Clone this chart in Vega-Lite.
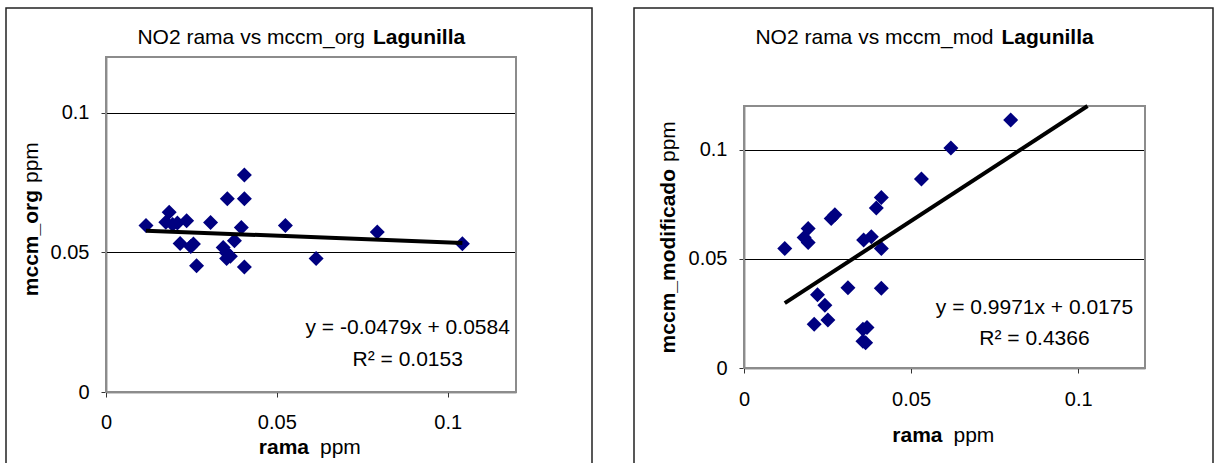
{
  "$schema": "https://vega.github.io/schema/vega-lite/v6.json",
  "padding": {"left": 5, "top": 7, "right": 0, "bottom": 0},
  "spacing": 40,
  "config": {
    "font": "Liberation Sans",
    "view": {"stroke": "#222222", "strokeWidth": 1.5},
    "text": {"font": "Liberation Sans", "fontSize": 21, "color": "#000000"},
    "axis": {"labelFont": "Liberation Sans", "labelFontSize": 20, "labelColor": "#000000", "labelFlush": false, "labelOverlap": false, "tickColor": "#333333", "tickSize": 5, "domainColor": "#333333", "domainWidth": 1.5, "gridColor": "#000000", "gridWidth": 1, "gridOpacity": 1}
  },
  "datasets": {
    "org": [
      {"rama": 0.0117, "mccm": 0.0596}, {"rama": 0.0185, "mccm": 0.0644}, {"rama": 0.0175, "mccm": 0.0608},
      {"rama": 0.0195, "mccm": 0.0600}, {"rama": 0.0209, "mccm": 0.0605}, {"rama": 0.0236, "mccm": 0.0613},
      {"rama": 0.0217, "mccm": 0.0532}, {"rama": 0.0248, "mccm": 0.0521}, {"rama": 0.0256, "mccm": 0.0530},
      {"rama": 0.0265, "mccm": 0.0452}, {"rama": 0.0306, "mccm": 0.0607}, {"rama": 0.0355, "mccm": 0.0692},
      {"rama": 0.0405, "mccm": 0.0692}, {"rama": 0.0405, "mccm": 0.0777}, {"rama": 0.0396, "mccm": 0.0589},
      {"rama": 0.0376, "mccm": 0.0542}, {"rama": 0.0343, "mccm": 0.0518}, {"rama": 0.0353, "mccm": 0.0498},
      {"rama": 0.0364, "mccm": 0.0486}, {"rama": 0.0353, "mccm": 0.0478}, {"rama": 0.0405, "mccm": 0.0448},
      {"rama": 0.0525, "mccm": 0.0596}, {"rama": 0.0615, "mccm": 0.0478}, {"rama": 0.0794, "mccm": 0.0573},
      {"rama": 0.1043, "mccm": 0.0531}
    ],
    "mod": [
      {"rama": 0.0122, "mccm": 0.0547}, {"rama": 0.0192, "mccm": 0.0639}, {"rama": 0.0180, "mccm": 0.0598},
      {"rama": 0.0192, "mccm": 0.0575}, {"rama": 0.0261, "mccm": 0.0685}, {"rama": 0.0272, "mccm": 0.0702},
      {"rama": 0.0358, "mccm": 0.0586}, {"rama": 0.0381, "mccm": 0.0601}, {"rama": 0.0411, "mccm": 0.0547},
      {"rama": 0.0396, "mccm": 0.0733}, {"rama": 0.0411, "mccm": 0.0781}, {"rama": 0.0531, "mccm": 0.0866},
      {"rama": 0.0619, "mccm": 0.1008}, {"rama": 0.0798, "mccm": 0.1136}, {"rama": 0.0220, "mccm": 0.0335},
      {"rama": 0.0242, "mccm": 0.0287}, {"rama": 0.0210, "mccm": 0.0200}, {"rama": 0.0251, "mccm": 0.0220},
      {"rama": 0.0311, "mccm": 0.0368}, {"rama": 0.0411, "mccm": 0.0365}, {"rama": 0.0356, "mccm": 0.0177},
      {"rama": 0.0368, "mccm": 0.0185}, {"rama": 0.0364, "mccm": 0.0116}, {"rama": 0.0356, "mccm": 0.0122}
    ],
    "fit_org": [{"rama": 0.0117, "mccm": 0.0578}, {"rama": 0.1043, "mccm": 0.0534}],
    "fit_mod": [{"rama": 0.0122, "mccm": 0.0297}, {"rama": 0.1028, "mccm": 0.12}],
    "one": [{}]
  },
  "hconcat": [
    {
      "width": 586,
      "height": 470,
      "layer": [
        {
          "data": {"name": "one"},
          "mark": {"type": "rect", "filled": false, "stroke": "#8c8c8c", "strokeWidth": 2},
          "encoding": {
            "x": {"datum": 0, "type": "quantitative", "title": null, "scale": {"domain": [0, 0.12], "range": [100, 510], "nice": false, "zero": false}},
            "x2": {"datum": 0.12},
            "y": {"datum": 0, "type": "quantitative", "title": null, "scale": {"domain": [0, 0.12], "range": [384, 49], "nice": false, "zero": false}},
            "y2": {"datum": 0.12}
          }
        },
        {
          "data": {"name": "org"},
          "mark": {"type": "point", "shape": "diamond", "filled": true, "color": "#000080", "size": 225, "opacity": 1},
          "encoding": {
            "x": {"field": "rama", "type": "quantitative", "title": null, "scale": {"domain": [0, 0.12], "range": [100, 510], "nice": false, "zero": false},
                  "axis": {"orient": "bottom", "offset": -86, "values": [0, 0.05, 0.1], "format": "~g", "grid": false, "labelPadding": 15, "title": null}},
            "y": {"field": "mccm", "type": "quantitative", "title": null, "scale": {"domain": [0, 0.12], "range": [384, 49], "nice": false, "zero": false},
                  "axis": {"orient": "left", "offset": -100, "values": [0, 0.05, 0.1], "format": "~g", "grid": true, "labelPadding": 12, "title": null}}
          }
        },
        {
          "data": {"name": "fit_org"},
          "mark": {"type": "line", "color": "#000000", "strokeWidth": 4},
          "encoding": {
            "x": {"field": "rama", "type": "quantitative", "title": null, "scale": {"domain": [0, 0.12], "range": [100, 510], "nice": false, "zero": false}},
            "y": {"field": "mccm", "type": "quantitative", "title": null, "scale": {"domain": [0, 0.12], "range": [384, 49], "nice": false, "zero": false}}
          }
        },
        {
          "data": {"name": "one"},
          "mark": {"type": "text", "text": "NO2 rama vs mccm_org", "align": "right", "baseline": "alphabetic"},
          "encoding": {
            "x": {"datum": 0.0758, "type": "quantitative", "title": null, "scale": {"domain": [0, 0.12], "range": [100, 510], "nice": false, "zero": false}},
            "y": {"datum": 0.12466, "type": "quantitative", "title": null, "scale": {"domain": [0, 0.12], "range": [384, 49], "nice": false, "zero": false}}
          }
        },
        {
          "data": {"name": "one"},
          "mark": {"type": "text", "text": "Lagunilla", "align": "left", "baseline": "alphabetic", "fontWeight": "bold", "dx": 8},
          "encoding": {
            "x": {"datum": 0.0758, "type": "quantitative", "title": null, "scale": {"domain": [0, 0.12], "range": [100, 510], "nice": false, "zero": false}},
            "y": {"datum": 0.12466, "type": "quantitative", "title": null, "scale": {"domain": [0, 0.12], "range": [384, 49], "nice": false, "zero": false}}
          }
        },
        {
          "data": {"name": "one"},
          "mark": {"type": "text", "text": "rama", "align": "right", "baseline": "alphabetic", "fontWeight": "bold"},
          "encoding": {
            "x": {"datum": 0.05941, "type": "quantitative", "title": null, "scale": {"domain": [0, 0.12], "range": [100, 510], "nice": false, "zero": false}},
            "y": {"datum": -0.0221, "type": "quantitative", "title": null, "scale": {"domain": [0, 0.12], "range": [384, 49], "nice": false, "zero": false}}
          }
        },
        {
          "data": {"name": "one"},
          "mark": {"type": "text", "text": "ppm", "align": "left", "baseline": "alphabetic", "dx": 11},
          "encoding": {
            "x": {"datum": 0.05941, "type": "quantitative", "title": null, "scale": {"domain": [0, 0.12], "range": [100, 510], "nice": false, "zero": false}},
            "y": {"datum": -0.0221, "type": "quantitative", "title": null, "scale": {"domain": [0, 0.12], "range": [384, 49], "nice": false, "zero": false}}
          }
        },
        {
          "data": {"name": "one"},
          "mark": {"type": "text", "text": "mccm_org", "align": "right", "baseline": "alphabetic", "fontWeight": "bold", "angle": 270},
          "encoding": {
            "x": {"datum": -0.0199, "type": "quantitative", "title": null, "scale": {"domain": [0, 0.12], "range": [100, 510], "nice": false, "zero": false}},
            "y": {"datum": 0.07236, "type": "quantitative", "title": null, "scale": {"domain": [0, 0.12], "range": [384, 49], "nice": false, "zero": false}}
          }
        },
        {
          "data": {"name": "one"},
          "mark": {"type": "text", "text": "ppm", "align": "left", "baseline": "alphabetic", "angle": 270, "dx": 7},
          "encoding": {
            "x": {"datum": -0.0199, "type": "quantitative", "title": null, "scale": {"domain": [0, 0.12], "range": [100, 510], "nice": false, "zero": false}},
            "y": {"datum": 0.07236, "type": "quantitative", "title": null, "scale": {"domain": [0, 0.12], "range": [384, 49], "nice": false, "zero": false}}
          }
        },
        {
          "data": {"name": "one"},
          "mark": {"type": "text", "text": "y = -0.0479x + 0.0584", "align": "center", "baseline": "alphabetic"},
          "encoding": {
            "x": {"datum": 0.0883, "type": "quantitative", "title": null, "scale": {"domain": [0, 0.12], "range": [100, 510], "nice": false, "zero": false}},
            "y": {"datum": 0.02078, "type": "quantitative", "title": null, "scale": {"domain": [0, 0.12], "range": [384, 49], "nice": false, "zero": false}}
          }
        },
        {
          "data": {"name": "one"},
          "mark": {"type": "text", "text": "R² = 0.0153", "align": "center", "baseline": "alphabetic"},
          "encoding": {
            "x": {"datum": 0.0883, "type": "quantitative", "title": null, "scale": {"domain": [0, 0.12], "range": [100, 510], "nice": false, "zero": false}},
            "y": {"datum": 0.00931, "type": "quantitative", "title": null, "scale": {"domain": [0, 0.12], "range": [384, 49], "nice": false, "zero": false}}
          }
        }
      ]
    },
    {
      "width": 579,
      "height": 470,
      "layer": [
        {
          "data": {"name": "one"},
          "mark": {"type": "rect", "filled": false, "stroke": "#8c8c8c", "strokeWidth": 2},
          "encoding": {
            "x": {"datum": 0, "type": "quantitative", "title": null, "scale": {"domain": [0, 0.12], "range": [110, 511], "nice": false, "zero": false}},
            "x2": {"datum": 0.12},
            "y": {"datum": 0, "type": "quantitative", "title": null, "scale": {"domain": [0, 0.12], "range": [360, 98], "nice": false, "zero": false}},
            "y2": {"datum": 0.12}
          }
        },
        {
          "data": {"name": "mod"},
          "mark": {"type": "point", "shape": "diamond", "filled": true, "color": "#000080", "size": 225, "opacity": 1},
          "encoding": {
            "x": {"field": "rama", "type": "quantitative", "title": null, "scale": {"domain": [0, 0.12], "range": [110, 511], "nice": false, "zero": false},
                  "axis": {"orient": "bottom", "offset": -110, "values": [0, 0.05, 0.1], "format": "~g", "grid": false, "labelPadding": 16, "title": null}},
            "y": {"field": "mccm", "type": "quantitative", "title": null, "scale": {"domain": [0, 0.12], "range": [360, 98], "nice": false, "zero": false},
                  "axis": {"orient": "left", "offset": -110, "values": [0, 0.05, 0.1], "format": "~g", "grid": true, "labelPadding": 12, "title": null}}
          }
        },
        {
          "data": {"name": "fit_mod"},
          "mark": {"type": "line", "color": "#000000", "strokeWidth": 4},
          "encoding": {
            "x": {"field": "rama", "type": "quantitative", "title": null, "scale": {"domain": [0, 0.12], "range": [110, 511], "nice": false, "zero": false}},
            "y": {"field": "mccm", "type": "quantitative", "title": null, "scale": {"domain": [0, 0.12], "range": [360, 98], "nice": false, "zero": false}}
          }
        },
        {
          "data": {"name": "one"},
          "mark": {"type": "text", "text": "NO2 rama vs mccm_mod", "align": "right", "baseline": "alphabetic"},
          "encoding": {
            "x": {"datum": 0.07466, "type": "quantitative", "title": null, "scale": {"domain": [0, 0.12], "range": [110, 511], "nice": false, "zero": false}},
            "y": {"datum": 0.1484, "type": "quantitative", "title": null, "scale": {"domain": [0, 0.12], "range": [360, 98], "nice": false, "zero": false}}
          }
        },
        {
          "data": {"name": "one"},
          "mark": {"type": "text", "text": "Lagunilla", "align": "left", "baseline": "alphabetic", "fontWeight": "bold", "dx": 8},
          "encoding": {
            "x": {"datum": 0.07466, "type": "quantitative", "title": null, "scale": {"domain": [0, 0.12], "range": [110, 511], "nice": false, "zero": false}},
            "y": {"datum": 0.1484, "type": "quantitative", "title": null, "scale": {"domain": [0, 0.12], "range": [360, 98], "nice": false, "zero": false}}
          }
        },
        {
          "data": {"name": "one"},
          "mark": {"type": "text", "text": "rama", "align": "right", "baseline": "alphabetic", "fontWeight": "bold"},
          "encoding": {
            "x": {"datum": 0.0594, "type": "quantitative", "title": null, "scale": {"domain": [0, 0.12], "range": [110, 511], "nice": false, "zero": false}},
            "y": {"datum": -0.0339, "type": "quantitative", "title": null, "scale": {"domain": [0, 0.12], "range": [360, 98], "nice": false, "zero": false}}
          }
        },
        {
          "data": {"name": "one"},
          "mark": {"type": "text", "text": "ppm", "align": "left", "baseline": "alphabetic", "dx": 11},
          "encoding": {
            "x": {"datum": 0.0594, "type": "quantitative", "title": null, "scale": {"domain": [0, 0.12], "range": [110, 511], "nice": false, "zero": false}},
            "y": {"datum": -0.0339, "type": "quantitative", "title": null, "scale": {"domain": [0, 0.12], "range": [360, 98], "nice": false, "zero": false}}
          }
        },
        {
          "data": {"name": "one"},
          "mark": {"type": "text", "text": "mccm_modificado", "align": "right", "baseline": "alphabetic", "fontWeight": "bold", "angle": 270},
          "encoding": {
            "x": {"datum": -0.02065, "type": "quantitative", "title": null, "scale": {"domain": [0, 0.12], "range": [110, 511], "nice": false, "zero": false}},
            "y": {"datum": 0.09115, "type": "quantitative", "title": null, "scale": {"domain": [0, 0.12], "range": [360, 98], "nice": false, "zero": false}}
          }
        },
        {
          "data": {"name": "one"},
          "mark": {"type": "text", "text": "ppm", "align": "left", "baseline": "alphabetic", "angle": 270, "dx": 7},
          "encoding": {
            "x": {"datum": -0.02065, "type": "quantitative", "title": null, "scale": {"domain": [0, 0.12], "range": [110, 511], "nice": false, "zero": false}},
            "y": {"datum": 0.09115, "type": "quantitative", "title": null, "scale": {"domain": [0, 0.12], "range": [360, 98], "nice": false, "zero": false}}
          }
        },
        {
          "data": {"name": "one"},
          "mark": {"type": "text", "text": "y = 0.9971x + 0.0175", "align": "center", "baseline": "alphabetic"},
          "encoding": {
            "x": {"datum": 0.08693, "type": "quantitative", "title": null, "scale": {"domain": [0, 0.12], "range": [110, 511], "nice": false, "zero": false}},
            "y": {"datum": 0.02473, "type": "quantitative", "title": null, "scale": {"domain": [0, 0.12], "range": [360, 98], "nice": false, "zero": false}}
          }
        },
        {
          "data": {"name": "one"},
          "mark": {"type": "text", "text": "R² = 0.4366", "align": "center", "baseline": "alphabetic"},
          "encoding": {
            "x": {"datum": 0.08693, "type": "quantitative", "title": null, "scale": {"domain": [0, 0.12], "range": [110, 511], "nice": false, "zero": false}},
            "y": {"datum": 0.01053, "type": "quantitative", "title": null, "scale": {"domain": [0, 0.12], "range": [360, 98], "nice": false, "zero": false}}
          }
        }
      ]
    }
  ]
}
